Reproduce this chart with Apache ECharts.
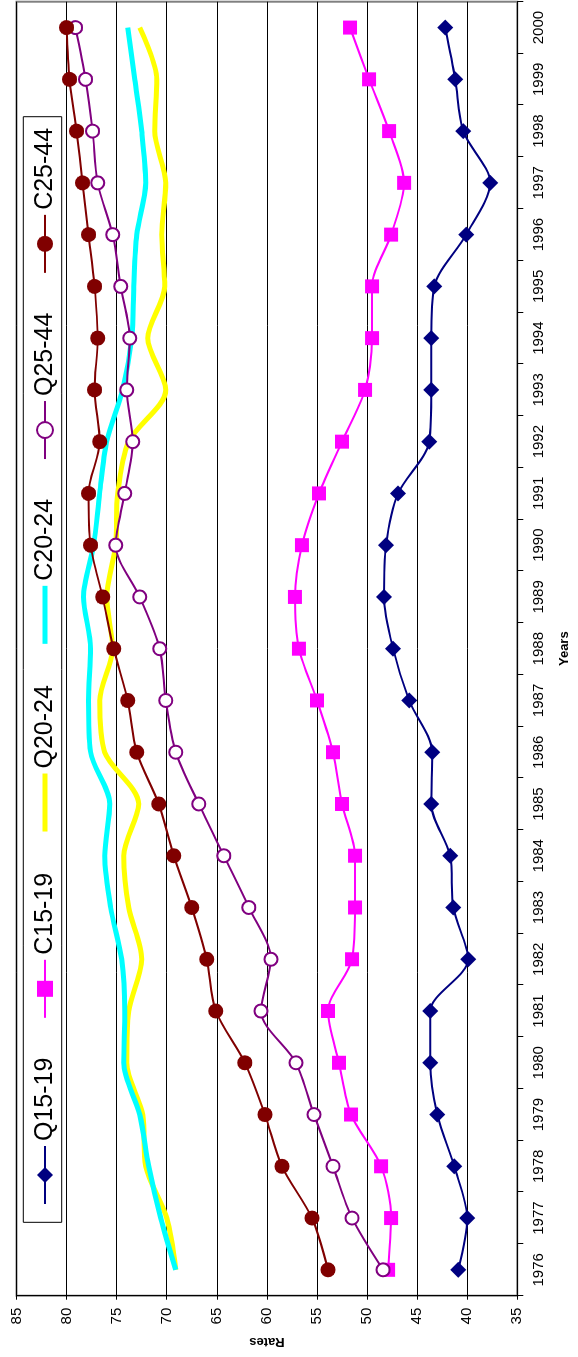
<!DOCTYPE html>
<html>
<head>
<meta charset="utf-8">
<script src="https://cdn.jsdelivr.net/npm/echarts@6/dist/echarts.min.js"></script>
<style>
  html, body { margin: 0; padding: 0; width: 578px; height: 1357px; overflow: hidden; background: #fff; }
  #wrap { position: absolute; left: 0; top: 0; width: 1357px; height: 578px;
          transform-origin: 0 0; transform: translate(0px, 1357px) rotate(-90deg); }
</style>
</head>
<body>
<div id="wrap"></div>
<script>
// ---- data ----
const years = ['1976','1977','1978','1979','1980','1981','1982','1983','1984','1985','1986','1987','1988',
               '1989','1990','1991','1992','1993','1994','1995','1996','1997','1998','1999','2000'];
const seriesNames = ['Q15-19','C15-19','Q20-24','C20-24','Q25-44','C25-44'];
const q1519 = [40.9,40.0,41.3,43.0,43.7,43.7,39.9,41.4,41.7,43.6,43.5,45.8,47.4,48.3,48.1,46.9,43.8,43.6,43.6,43.3,40.1,37.7,40.4,41.2,42.2];
const c1519 = [47.9,47.6,48.6,51.6,52.8,53.9,51.5,51.2,51.2,52.5,53.4,55.0,56.8,57.2,56.5,54.8,52.5,50.2,49.5,49.5,47.6,46.3,47.8,49.8,51.7];
const q2024 = [69.1,70.0,72.1,72.4,74.0,73.8,72.5,73.8,74.3,72.8,76.2,76.7,75.4,76.0,75.1,74.9,73.8,70.1,71.9,70.2,70.5,70.1,71.2,71.0,72.7];
const c2024 = [69.1,70.6,71.8,72.7,74.3,74.2,74.5,75.6,76.2,75.7,77.6,77.8,77.6,78.3,77.3,76.7,76.0,74.4,73.5,73.3,73.0,72.1,72.5,73.2,73.9];
const q2544 = [48.4,51.5,53.4,55.3,57.1,60.6,59.6,61.8,64.3,66.8,69.1,70.1,70.7,72.7,75.1,74.2,73.4,74.0,73.7,74.6,75.4,76.9,77.4,78.1,79.1];
const c2544 = [53.9,55.5,58.5,60.2,62.2,65.1,66.0,67.5,69.3,70.8,73.0,73.9,75.3,76.4,77.6,77.8,76.7,77.2,76.9,77.2,77.8,78.4,79.0,79.7,80.0];
const rateMin = 35, rateMax = 85, rateStep = 5;

// ---- chart ----
const FONT = "'Liberation Sans', Arial, sans-serif";
const chart = echarts.init(document.getElementById('wrap'), null, { width: 1357, height: 578 });

function lineSeries(name, data, color, symbol, size, width) {
  return {
    name: name, type: 'line', data: data, smooth: 0.3,
    symbol: symbol, symbolSize: size, showSymbol: symbol !== 'none',
    itemStyle: { color: color, borderWidth: symbol === 'emptyCircle' ? 2 : 0 },
    lineStyle: { color: color, width: width },
    emphasis: { disabled: true }, animation: false
  };
}

const option = {
  backgroundColor: '#fff',
  animation: false,
  grid: { left: 61.3, right: 1.7, top: 16.5, bottom: 60.7, show: true,
          borderColor: '#808080', borderWidth: 2, backgroundColor: 'transparent' },
  graphic: [{
    type: 'rect', z: 3, shape: { x: 134.7, y: 23.3, width: 1105.6, height: 38.4 },
    style: { fill: '#fff', stroke: '#000', lineWidth: 1 }
  }],
  legend: {
    left: 152, top: 32.5, padding: 0, itemWidth: 58, itemHeight: 20, itemGap: 38.8, z: 5,
    textStyle: { fontSize: 25, color: '#000', fontFamily: FONT },
    lineStyle: { width: 'inherit' },
    data: [
      { name: 'Q15-19' }, { name: 'C15-19' },
      { name: 'Q20-24', itemStyle: { opacity: 0 } },
      { name: 'C20-24', itemStyle: { opacity: 0 } },
      { name: 'Q25-44' }, { name: 'C25-44' }
    ]
  },
  xAxis: {
    type: 'category', data: years, boundaryGap: true,
    axisLine: { show: true, lineStyle: { color: '#000', width: 1 } },
    axisTick: { show: true, length: 6, lineStyle: { color: '#000' } },
    axisLabel: { fontSize: 15, color: '#000', margin: 14, fontFamily: FONT, interval: 0 },
    name: 'Years', nameLocation: 'middle', nameGap: 41,
    nameTextStyle: { fontSize: 13, fontWeight: 'bold', color: '#000', fontFamily: FONT }
  },
  yAxis: {
    type: 'value', min: rateMin, max: rateMax, interval: rateStep,
    axisLine: { show: true, lineStyle: { color: '#000', width: 1 } },
    axisTick: { show: true, length: 4, lineStyle: { color: '#000' } },
    splitLine: { show: true, lineStyle: { color: '#000', width: 1 } },
    axisLabel: { fontSize: 15, color: '#000', margin: 12, fontFamily: FONT },
    name: 'Rates', nameLocation: 'middle', nameGap: 38,
    nameTextStyle: { fontSize: 13, fontWeight: 'bold', color: '#000', fontFamily: FONT }
  },
  series: [
    lineSeries(seriesNames[0], q1519, '#000080', 'diamond', 16, 2),
    lineSeries(seriesNames[1], c1519, '#FF00FF', 'rect', 14, 2),
    lineSeries(seriesNames[2], q2024, '#FFFF00', 'none', 0, 5),
    lineSeries(seriesNames[3], c2024, '#00FFFF', 'none', 0, 5),
    lineSeries(seriesNames[4], q2544, '#800080', 'emptyCircle', 13, 2),
    lineSeries(seriesNames[5], c2544, '#800000', 'circle', 15, 2)
  ]
};
chart.setOption(option);
</script>
</body>
</html>
